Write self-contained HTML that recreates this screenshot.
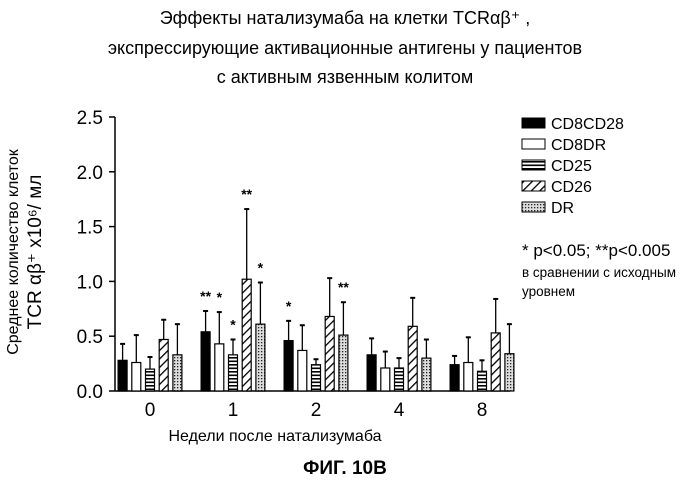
<!DOCTYPE html>
<html><head><meta charset="utf-8"><style>
body{margin:0;background:#fff;}
svg text{font-family:"Liberation Sans",sans-serif;fill:#000;}
</style></head><body>
<svg width="700" height="492" viewBox="0 0 700 492">
<defs>
<pattern id="hstripe" width="4" height="3.5" patternUnits="userSpaceOnUse"><rect width="4" height="3.5" fill="#fff"/><rect y="0" width="4" height="1.6" fill="#000"/></pattern>
<pattern id="diag" width="6" height="6" patternUnits="userSpaceOnUse" patternTransform="rotate(45)"><rect width="6" height="6" fill="#fff"/><rect x="0" width="1.3" height="6" fill="#000"/></pattern>
<pattern id="dots" width="3" height="3" patternUnits="userSpaceOnUse"><rect width="3" height="3" fill="#ddd"/><rect width="1.3" height="1.3" fill="#222"/></pattern>
</defs>
<g font-size="18" text-anchor="middle">
<text x="345" y="24">Эффекты натализумаба на клетки  TCRαβ⁺ ,</text>
<text x="345" y="54">экспрессирующие активационные антигены у пациентов</text>
<text x="345" y="83">с активным язвенным колитом</text>
</g>
<g transform="translate(18,252) rotate(-90)" text-anchor="middle">
<text x="0" y="0" font-size="16">Среднее количество клеток</text>
<text x="0" y="23" font-size="19">TCR αβ⁺ x10⁶/ мл</text>
</g>
<g id="axes"></g>
<g id="bars"></g>
<text x="275" y="441" font-size="16" text-anchor="middle">Недели после натализумаба</text>
<text x="345" y="474" font-size="19" font-weight="bold" text-anchor="middle">ФИГ. 10B</text>
<g id="legend"></g>
<g>
<text x="522" y="256" font-size="17">* p&lt;0.05; **p&lt;0.005</text>
<text x="522" y="277" font-size="13.5">в сравнении с исходным</text>
<text x="522" y="296" font-size="13.5">уровнем</text>
</g>
</svg>
<script>
const categories=["0","1","2","4","8"];
const series=["CD8CD28","CD8DR","CD25","CD26","DR"];
const means=[[0.28,0.54,0.46,0.33,0.24],[0.26,0.43,0.37,0.21,0.26],[0.20,0.33,0.24,0.21,0.18],[0.47,1.02,0.68,0.59,0.53],[0.33,0.61,0.51,0.30,0.34]];
const errTops=[[0.43,0.73,0.64,0.48,0.32],[0.51,0.72,0.60,0.36,0.49],[0.31,0.47,0.29,0.30,0.28],[0.65,1.66,1.03,0.85,0.84],[0.61,0.99,0.81,0.47,0.61]];
const stars=[["","**","*","",""],["","*","","",""],["","*","","",""],["","**","","",""],["","*","**","",""]];
const yTicks=[0,0.5,1.0,1.5,2.0,2.5];
const yTickLabels=["0.0","0.5","1.0","1.5","2.0","2.5"];
const fills=["#000","#fff","url(#hstripe)","url(#diag)","url(#dots)"];
const NS="http://www.w3.org/2000/svg";
const x0=115,xEnd=510,yBase=391,yScale=109.6;
const y=v=>yBase-v*yScale;
const gx=i=>150+i*83;
function mk(t,a,p){const e=document.createElementNS(NS,t);for(const k in a)e.setAttribute(k,a[k]);p.appendChild(e);return e;}
const axes=document.getElementById('axes');
const ya=mk('line',{x1:x0,y1:y(2.5),x2:x0,y2:yBase,stroke:'#000','stroke-width':1.5},axes);


const xa=mk('line',{x1:x0,y1:yBase,x2:xEnd,y2:yBase,stroke:'#000','stroke-width':1.5},axes);


yTicks.forEach((t,i)=>{mk('line',{x1:x0-6,y1:y(t),x2:x0,y2:y(t),stroke:'#000','stroke-width':1.5},axes);
const tx=mk('text',{x:x0-12,y:y(t)+7,'font-size':19,'text-anchor':'end'},axes);tx.textContent=yTickLabels[i];

});
categories.forEach((c,i)=>{const tx=mk('text',{x:gx(i),y:yBase+25,'font-size':19,'text-anchor':'middle'},axes);tx.textContent=c;

});
const bars=document.getElementById('bars');
const bw=9,step=13.7;
series.forEach((s,si)=>{categories.forEach((c,ci)=>{
const bx=gx(ci)-2*step+si*step-bw/2;
const cx=bx+bw/2;
const et=mk('line',{x1:cx,y1:y(errTops[si][ci]),x2:cx,y2:y(means[si][ci]),stroke:'#000','stroke-width':1.3},bars);


mk('line',{x1:cx-2.5,y1:y(errTops[si][ci]),x2:cx+2.5,y2:y(errTops[si][ci]),stroke:'#000','stroke-width':2},bars);
const r=mk('rect',{x:bx,y:y(means[si][ci]),width:bw,height:yBase-y(means[si][ci]),fill:fills[si],stroke:'#000','stroke-width':1.2},bars);


if(stars[si][ci]){const st=mk('text',{x:cx,y:y(errTops[si][ci])-10,'font-size':14,'text-anchor':'middle','font-weight':'bold'},bars);st.textContent=stars[si][ci];

}
});});
const lg=document.getElementById('legend');
series.forEach((s,i)=>{const yy=118+i*21;
const r=mk('rect',{x:522,y:yy,width:23,height:10,fill:fills[i],stroke:'#000','stroke-width':1},lg);


const t=mk('text',{x:551,y:yy+11,'font-size':16},lg);t.textContent=s;

});
</script>
</body></html>
